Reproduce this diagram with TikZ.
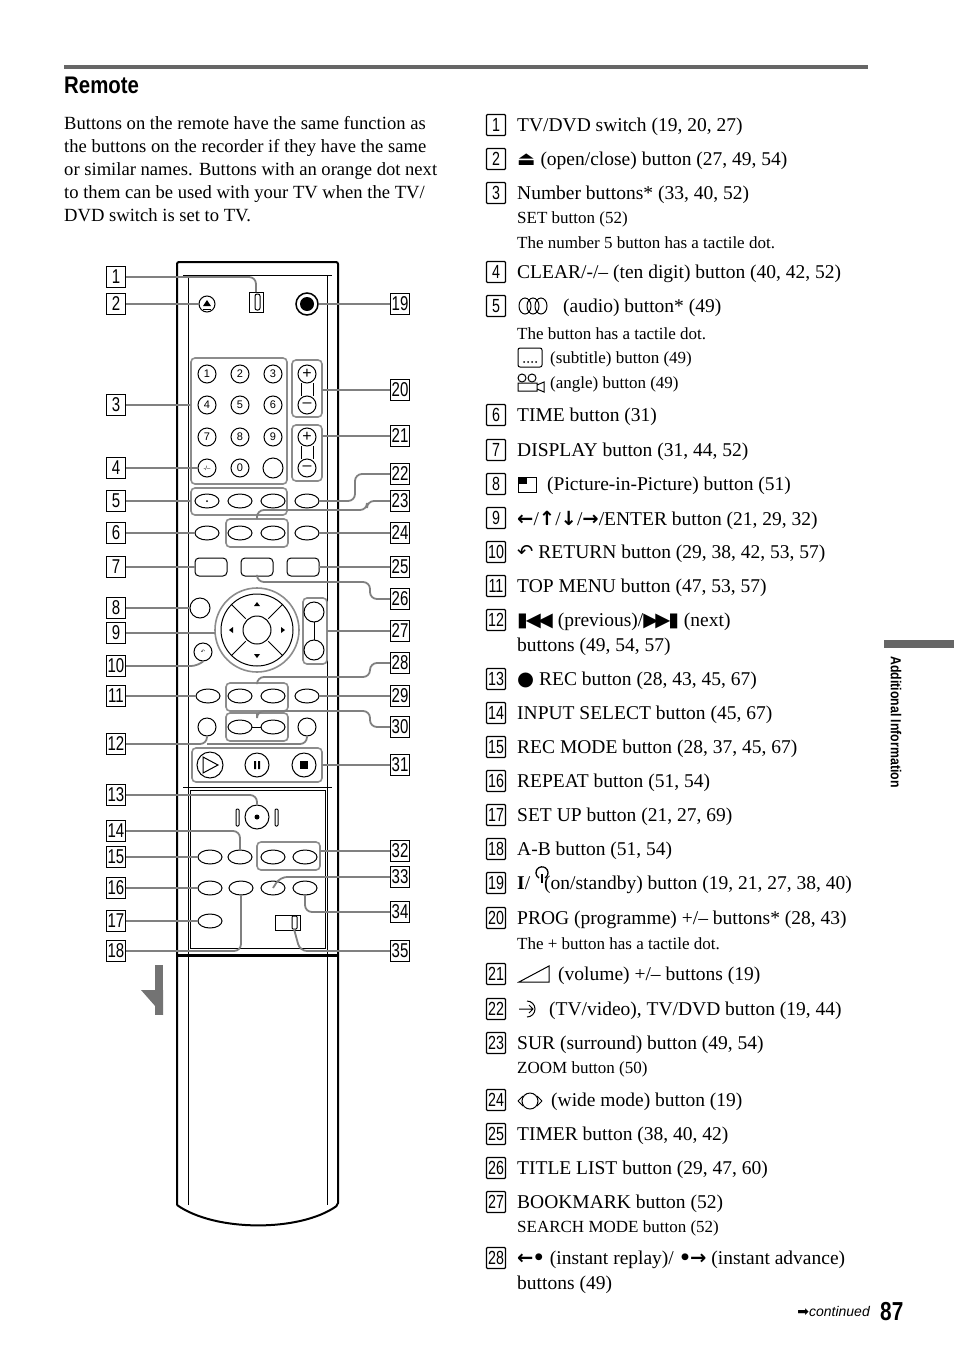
\documentclass[tikz,border=0pt]{standalone}
\usepackage{fontspec}
\setmainfont{Liberation Serif}
\setsansfont{Liberation Sans}
\newfontfamily\symf{DejaVu Sans}
\newcommand{\sym}[1]{{\symf #1}}
\begin{document}
\begin{tikzpicture}[x=1pt,y=-1pt,
  lbl/.style={draw,line width=1.3pt,minimum width=19pt,minimum height=21pt,inner sep=0pt,font=\sffamily\fontsize{20}{20}\selectfont},
  con/.style={draw=black!50,line width=1.8pt,rounded corners=7pt},
  rb/.style={draw,line width=1pt},
  pan/.style={draw=black!45,line width=1.6pt,rounded corners=4pt},
  itm/.style={anchor=west,inner sep=0pt,font=\fontsize{19.5}{21}\selectfont},
  sub/.style={anchor=west,inner sep=0pt,font=\fontsize{17}{18}\selectfont},
  nb/.style={draw,line width=1.2pt,rounded corners=1pt,minimum width=19pt,minimum height=21pt,inner sep=0pt,font=\sffamily\fontsize{19}{19}\selectfont}]
\useasboundingbox (0,0) rectangle (954,1352);
% header
\draw[black!60,line width=4pt] (64,67) -- (868,67);
\node[anchor=west,inner sep=0pt,font=\sffamily\bfseries\fontsize{24}{24}\selectfont] (hd) at (64,85) {\scalebox{0.85}[1]{Remote}};
\node[anchor=north west,inner sep=0pt,align=left,font=\fontsize{18.6}{23}\selectfont] (para) at (64,116) {Buttons on the remote have the same function as\\the buttons on the recorder if they have the same\\or similar names. Buttons with an orange dot next\\to them can be used with your TV when the TV/\\DVD switch is set to TV.};
% side tab
\fill[black!60] (884,640) rectangle (954,648);
\node[rotate=-90,anchor=west,inner sep=0pt,font=\sffamily\bfseries\fontsize{14.5}{14}\selectfont] (tab) at (896,656) {\scalebox{0.85}[1]{Additional Information}};
% footer
\node[anchor=east,inner sep=0pt,font=\sffamily\itshape\fontsize{14}{14}\selectfont] (cont) at (870,1311) {\sym{➡}continued};
\node[anchor=west,inner sep=0pt,font=\sffamily\bfseries\fontsize{26}{26}\selectfont] (pg) at (880,1312) {\scalebox{0.8}[1]{87}};
% right column list
\foreach \n/\y in {1/125,2/159,3/193,4/272,5/306,6/415,7/450,8/484,9/518,10/552,11/586,12/620,13/679,14/713,15/747,16/781,17/815,18/849,19/883,20/918,21/974,22/1009,23/1043,24/1100,25/1134,26/1168,27/1202,28/1258}
  \node[nb] (n\n) at (496,\y) {\scalebox{0.75}[1]{\n}};
\node[itm] (t1) at (517,127) {TV/DVD switch (19, 20, 27)};
\node[itm] (t2) at (517,161) {\sym{⏏} (open/close) button (27, 49, 54)};
\node[itm] (t3) at (517,195) {Number buttons* (33, 40, 52)};
\node[sub] (t3a) at (517,219) {SET button (52)};
\node[sub] (t3b) at (517,243) {The number 5 button has a tactile dot.};
\node[itm] (t4) at (517,274) {CLEAR/-/-- (ten digit) button (40, 42, 52)};
\node[itm] (t5) at (563,308) {(audio) button* (49)};
\node[sub] (t5a) at (517,334) {The button has a tactile dot.};
\node[sub] (t5b) at (550,359) {(subtitle) button (49)};
\node[sub] (t5c) at (550,384) {(angle) button (49)};
\node[itm] (t6) at (517,417) {TIME button (31)};
\node[itm] (t7) at (517,452) {DISPLAY button (31, 44, 52)};
\node[itm] (t8) at (547,486) {(Picture-in-Picture) button (51)};
\node[itm] (t9) at (517,520) {{\symf\bfseries ←}/{\symf\bfseries ↑}/{\symf\bfseries ↓}/{\symf\bfseries →}/ENTER button (21, 29, 32)};
\node[itm] (t10) at (517,554) {\sym{↶} RETURN button (29, 38, 42, 53, 57)};
\node[itm] (t11) at (517,588) {TOP MENU button (47, 53, 57)};
\node[itm] (t12) at (517,622) {{\symf\bfseries ▮\kern-2pt◀\kern-3pt◀} (previous)/{\symf\bfseries ▶\kern-3pt▶\kern-2pt▮} (next)};
\node[itm] (t12a) at (517,647) {buttons (49, 54, 57)};
\node[itm] (t13) at (517,681) {\sym{●} REC button (28, 43, 45, 67)};
\node[itm] (t14) at (517,715) {INPUT SELECT button (45, 67)};
\node[itm] (t15) at (517,749) {REC MODE button (28, 37, 45, 67)};
\node[itm] (t16) at (517,783) {REPEAT button (51, 54)};
\node[itm] (t17) at (517,817) {SET UP button (21, 27, 69)};
\node[itm] (t18) at (517,851) {A-B button (51, 54)};
\node[itm] (t19) at (517,885) {\textbf{I}/\hspace{14pt}(on/standby) button (19, 21, 27, 38, 40)};
\node[itm] (t20) at (517,920) {PROG (programme) +/-- buttons* (28, 43)};
\node[sub] (t20a) at (517,944) {The + button has a tactile dot.};
\node[itm] (t21) at (558,976) {(volume) +/-- buttons (19)};
\node[itm] (t22) at (549,1011) {(TV/video), TV/DVD button (19, 44)};
\node[itm] (t23) at (517,1045) {SUR (surround) button (49, 54)};
\node[sub] (t23a) at (517,1069) {ZOOM button (50)};
\node[itm] (t24) at (551,1102) {(wide mode) button (19)};
\node[itm] (t25) at (517,1136) {TIMER button (38, 40, 42)};
\node[itm] (t26) at (517,1170) {TITLE LIST button (29, 47, 60)};
\node[itm] (t27) at (517,1204) {BOOKMARK button (52)};
\node[sub] (t27a) at (517,1228) {SEARCH MODE button (52)};
\node[itm] (t28) at (517,1260) {{\symf\bfseries ←\kern-1pt•} (instant replay)/ {\symf\bfseries •\kern-1pt→} (instant advance)};
\node[itm] (t28a) at (517,1285) {buttons (49)};
% inline icons
\foreach \dx in {0,8,16} \draw[line width=1pt] (525+\dx,306) ellipse (6pt and 8pt);
\draw[line width=1pt,rounded corners=2pt] (518,348) rectangle (542,367);
\foreach \dx in {0,4,8,12} \fill (524+\dx,362) circle (1pt);
\draw[line width=1pt] (522,378) circle (4pt) (532,378) circle (4pt);
\draw[line width=1pt] (518,383) rectangle (537,391) (537,385) -- (544,382) -- (544,392) -- (537,389);
\draw[line width=1pt] (518,477) rectangle (536,492);
\fill (518,477) rectangle (527,484);
\draw[line width=1.3pt] (545,878) arc (-60:240:6pt);
\draw[line width=1.3pt] (542,874) -- (542,883);
\draw[line width=1pt] (519,982) -- (549,982) -- (549,966) -- cycle;
\draw[line width=1pt] (527,1001) arc (-90:-270:-8pt);
\draw[line width=1pt] (519,1009) -- (533,1009) (529,1005) -- (533,1009) -- (529,1013);
\draw[line width=1pt] (530,1101) circle (8pt);
\draw[line width=1pt] (518,1101) -- (523,1096) (518,1101)--(523,1106) (542,1101)--(537,1096) (542,1101)--(537,1106);
% ---------- remote ----------
\draw[line width=2pt,rounded corners=2pt] (177,1205) -- (177,262) -- (338,262) -- (338,1205) .. controls (300,1232) and (215,1232) .. (177,1205);
\draw[line width=1pt] (188,1205) -- (188,275) -- (327,275) -- (327,1205);
\draw[line width=0.8pt] (183,275) -- (332,275);
\draw[line width=3pt] (177,955) -- (338,955);
\draw[line width=1pt] (190,948) -- (190,790) -- (325,790) -- (325,948) -- cycle;
\draw[line width=1pt] (183,787) -- (332,787);
% top row
\draw[rb] (249,292) rectangle (263,312); \draw[rb,rounded corners=2pt] (255,294) rectangle (260,310);
\node[rb,circle,minimum size=16pt,inner sep=0pt] (b2) at (207,304) {}; \fill (203,306) -- (211,306) -- (207,300) -- cycle; \draw (203,309) -- (211,309);
\node[draw,line width=1.5pt,circle,minimum size=22pt,inner sep=0pt] (b19) at (307,304) {}; \fill (307,304) circle (7pt);
% numpad
\draw[pan] (191,358) rectangle (287,484);
\foreach \k/\x/\y in {1/207/374,2/240/374,3/273/374,4/207/405,5/240/405,6/273/405,7/207/437,8/240/437,9/273/437,0/240/468}
  \node[rb,circle,minimum size=18pt,inner sep=0pt,font=\sffamily\fontsize{11}{11}\selectfont] (k\k) at (\x,\y) {\k};
\node[rb,circle,minimum size=18pt,inner sep=0pt,font=\sffamily\fontsize{6}{6}\selectfont] (kc) at (207,468) {-/--};
\node[rb,circle,minimum size=20pt,inner sep=0pt] (kb) at (273,468) {};
\draw[pan] (292,360) rectangle (322,417); \draw[pan] (292,425) rectangle (322,481);
\foreach \y in {374,437} {\node[rb,circle,minimum size=18pt,inner sep=0pt,font=\sffamily\fontsize{16}{16}\selectfont] at (307,\y) {+}; \node[rb,circle,minimum size=18pt,inner sep=0pt,font=\sffamily\fontsize{16}{16}\selectfont] at (307,\y+31) {--}; \draw[rb] (301,\y+9) -- (301,\y+22) (313,\y+9) -- (313,\y+22);}
% oval rows
\draw[pan] (191,488) rectangle (287,515);
\draw[pan] (226,519) rectangle (288,547);
\draw[pan] (226,683) rectangle (288,711);
\draw[pan] (226,713) rectangle (288,741);
\draw[pan] (192,748) rectangle (322,782);
\draw[pan] (257,842) rectangle (320,870);
\foreach \x/\y in {207/501,240/501,273/501,307/501,207/533,240/533,273/533,307/533,208/696,240/696,273/696,307/696,240/727,273/727,210/857,240/857,273/857,305/857,210/888,241/888,273/888,305/888,210/921}
  \draw[rb] (\x,\y) ellipse (12pt and 7pt);
\fill (207,501) circle (1pt);
\draw[rb] (252,727) -- (261,727);
\foreach \x/\y in {211/567,257/567,303/567} \draw[rb,rounded corners=4pt] (\x-16,\y-9) rectangle (\x+16,\y+9);
% circle pad
\draw[pan] (257,630) circle (42pt);
\draw[rb] (257,630) circle (36pt);
\draw[rb] (257,630) circle (14pt);
\foreach \a in {45,135,225,315} \draw[rb] (257,630) ++(\a:16) -- ++(\a:20);
\fill (257,602) -- (254,606) -- (260,606) -- cycle;
\fill (257,658) -- (254,654) -- (260,654) -- cycle;
\fill (229,630) -- (233,627) -- (233,633) -- cycle;
\fill (285,630) -- (281,627) -- (281,633) -- cycle;
\node[rb,circle,minimum size=20pt,inner sep=0pt] (b8) at (200,608) {};
\node[rb,circle,minimum size=18pt,inner sep=0pt] (b10) at (203,652) {\sym{\tiny↶}};
\draw[pan] (303,598) rectangle (327,664);
\node[rb,circle,minimum size=20pt,inner sep=0pt] (bk1) at (314,612) {};
\node[rb,circle,minimum size=20pt,inner sep=0pt] (bk2) at (314,650) {};
\draw[rb] (314,622) -- (314,640);
\node[rb,circle,minimum size=18pt,inner sep=0pt] (b12a) at (207,727) {};
\node[rb,circle,minimum size=18pt,inner sep=0pt] (b12b) at (307,727) {};
\node[rb,circle,minimum size=26pt,inner sep=0pt] (bplay) at (210,765) {}; \draw[rb] (203,757) -- (203,773) -- (218,765) -- cycle;
\node[rb,circle,minimum size=24pt,inner sep=0pt] (bpause) at (257,765) {}; \fill (254,761) rectangle (256,769) (258,761) rectangle (260,769);
\node[rb,circle,minimum size=24pt,inner sep=0pt] (bstop) at (304,765) {}; \fill (300,761) rectangle (308,769);
% lower flap
\node[rb,circle,minimum size=24pt,inner sep=0pt] (b13) at (257,817) {}; \fill (257,817) circle (2.5pt);
\draw[rb,rounded corners=1pt] (236,809) rectangle (239,826) (275,809) rectangle (278,826);
\draw[rb] (275,915) rectangle (300,930); \draw[rb,rounded corners=1pt] (292,916) rectangle (297,929);
% bottom arrow
\fill[black!55] (155,965) rectangle (163,1015);
\fill[black!55] (141,990) -- (163,990) -- (163,1015) -- cycle;
% left labels
\foreach \n/\y in {1/277,2/304,3/405,4/468,5/501,6/533,7/567,8/608,9/633,10/666,11/696,12/744,13/795,14/831,15/857,16/888,17/921,18/951}
  \node[lbl] (L\n) at (116,\y) {\scalebox{0.75}[1]{\n}};
\foreach \n/\y in {19/304,20/390,21/436,22/474,23/501,24/533,25/567,26/599,27/631,28/663,29/696,30/727,31/765,32/851,33/877,34/912,35/951}
  \node[lbl] (R\n) at (400,\y) {\scalebox{0.75}[1]{\n}};
% connectors left
\draw[con] (L1.east) -| (256,292);
\draw[con] (L2.east) -- (b2.west);
\draw[con] (L3.east) -- (191,405);
\draw[con] (L4.east) -- (kc.west);
\draw[con] (L5.east) -- (191,501);
\draw[con] (L6.east) -- (195,533);
\draw[con] (L7.east) -- (195,567);
\draw[con] (L8.east) -- (b8.west);
\draw[con] (L9.east) -- (215,633);
\draw[con] (L10.east) -- (198,666) -- (b10.south);
\draw[con] (L11.east) -- (196,696);
\draw[con] (L12.east) -| (b12a.south);
\draw[con] (207,744) -| (b12b.south);
\draw[con] (L13.east) -| (b13.north);
\draw[con] (L14.east) -| (240,850);
\draw[con] (L15.east) -- (198,857);
\draw[con] (L16.east) -- (198,888);
\draw[con] (L17.east) -- (198,921);
\draw[con] (L18.east) -| (241,895);
% connectors right
\draw[con] (R19.west) -- (b19.east);
\draw[con] (R20.west) -- (322,390);
\draw[con] (R21.west) -- (322,436);
\draw[con] (R22.west) -- (355,474) -- (355,501) -- (319,501);
\draw[con] (R23.west) -- (367,501) -- (367,510) -- (257,510) -- (257,519);
\draw[con] (R24.west) -- (319,533);
\draw[con] (R25.west) -- (319,567);
\draw[con] (R26.west) -- (370,599) -- (370,582) -- (257,582) -- (257,576);
\draw[con] (R27.west) -- (327,631);
\draw[con] (R28.west) -- (370,663) -- (370,677) -- (257,677) -- (257,683);
\draw[con] (R29.west) -- (319,696);
\draw[con] (R30.west) -- (370,727) -- (370,711) -- (257,711) -- (257,713);
\draw[con] (R31.west) -- (322,765);
\draw[con] (R32.west) -- (320,851);
\draw[con] (R33.west) -- (280,877) -- (273,888);
\draw[con] (R34.west) -- (305,912) -- (305,895);
\draw[con] (R35.west) -- (300,951) -- (294,929);
\end{tikzpicture}
\end{document}
